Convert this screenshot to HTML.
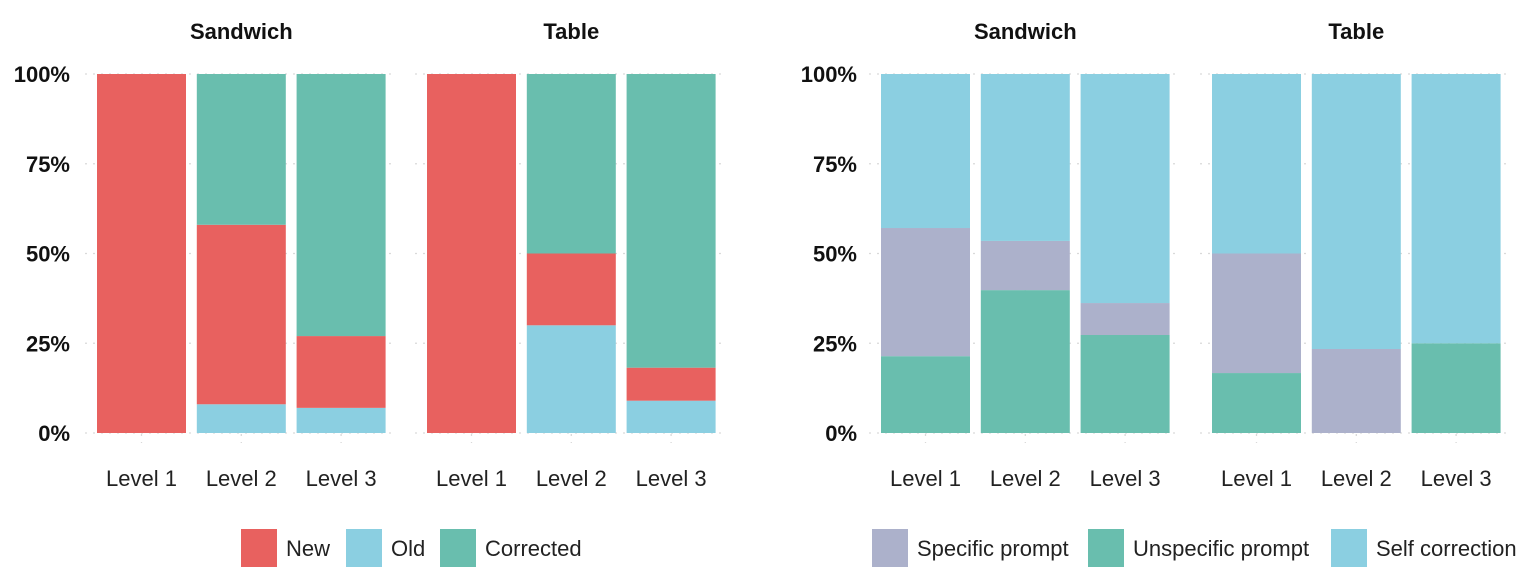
<!DOCTYPE html>
<html><head><meta charset="utf-8"><style>
body{margin:0;background:#fff;width:1532px;height:576px;overflow:hidden;font-family:"Liberation Sans",Arial,sans-serif}
svg text{font-family:"Liberation Sans",Arial,sans-serif}
</style></head><body>
<svg id="c" width="1532" height="576"></svg>
<script>
const levels=["Level 1","Level 2","Level 3"];
const panels=["Sandwich","Table"];
const yTicks=[0,25,50,75,100];
// left chart: stacked bottom-up Old, New, Corrected
const leftSeries=["Old","New","Corrected"];
const leftOld=[[0,8,7],[0,30,9]];
const leftNew=[[100,50,20],[100,20,9.2]];
const leftCorrected=[[0,42,73],[0,50,81.8]];
// right chart: stacked bottom-up Unspecific, Specific, Self
const rightSeries=["Unspecific prompt","Specific prompt","Self correction"];
const rightUnspec=[[21.4,39.8,27.3],[16.7,0,25]];
const rightSpec=[[35.7,13.7,8.9],[33.3,23.4,0]];
const rightSelf=[[42.9,46.5,63.8],[50,76.6,75]];

const COL={"New":"#e8615f","Old":"#8bcfe1","Corrected":"#69beae","Specific prompt":"#acb1cb","Unspecific prompt":"#69beae","Self correction":"#8bcfe1"};
const svg=document.getElementById('c');
const NS="http://www.w3.org/2000/svg";
function el(t,a,p){const e=document.createElementNS(NS,t);for(const k in a)e.setAttribute(k,a[k]);(p||svg).appendChild(e);return e;}
const y0=433,y1=74;
function y(v){return y0-(y0-y1)*v/100;}
function chart(axisX,panelStarts,series,data,legendItems,gridR,name){
  const g=el('g',{});
  
  
  const bw=89,step=99.8;
  panelStarts.forEach((px,pi)=>{
    // grid
    yTicks.forEach(t=>{el('line',{x1:px-12,x2:px+3*step-1,y1:y(t),y2:y(t),stroke:"#d9d9d9","stroke-dasharray":"2,6","stroke-width":1.3},g);});
    for(let i=0;i<3;i++){const cx=px+i*step+bw/2;el('line',{x1:cx,x2:cx,y1:y1,y2:y0+10,stroke:"#d9d9d9","stroke-dasharray":"2,6","stroke-width":1.3},g);}
    const tt=el('text',{x:px+step+bw/2,y:39,"text-anchor":"middle","font-size":22,"font-weight":"bold",fill:"#111"},g);
    tt.textContent=panels[pi];
    
    
    for(let i=0;i<3;i++){
      let acc=0;const x=px+i*step;
      series.forEach((s,si)=>{
        const v=data[si][pi][i];
        if(v>0){const r=el('rect',{x:x,y:y(acc+v),width:bw,height:y(acc)-y(acc+v),fill:COL[s]},g);
          
          }
        acc+=v;
      });
      const lt=el('text',{x:x+bw/2,y:486,"text-anchor":"middle","font-size":22,fill:"#222"},g);
      lt.textContent=levels[i];
      
      
    }
  });
  yTicks.forEach(t=>{const tx=el('text',{x:axisX,y:y(t)+8,"text-anchor":"end","font-size":22,"font-weight":"bold",fill:"#111"},g);
    tx.textContent=t+"%";
    
    });
  legendItems.forEach(([lbl,lx])=>{
    const r=el('rect',{x:lx,y:529,width:36,height:38,fill:COL[lbl]},g);
    
    
    const t=el('text',{x:lx+45,y:556,"font-size":22,fill:"#222"},g);
    t.textContent=lbl;
    
    
  });
}
chart(70,[97,427],leftSeries,[leftOld,leftNew,leftCorrected],[["New",241],["Old",346],["Corrected",440]],0,'left-chart');
chart(857,[881,1212],rightSeries,[rightUnspec,rightSpec,rightSelf],[["Specific prompt",872],["Unspecific prompt",1088],["Self correction",1331]],0,'right-chart');
</script>
</body></html>
